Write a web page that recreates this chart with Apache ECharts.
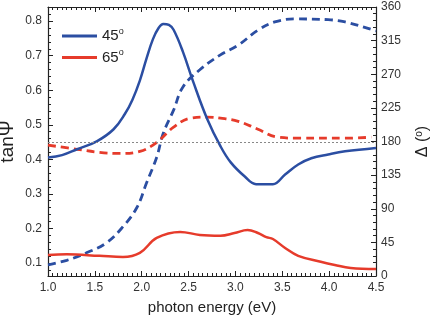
<!DOCTYPE html>
<html>
<head>
<meta charset="utf-8">
<script src="https://cdn.jsdelivr.net/npm/echarts@6/dist/echarts.min.js"></script>
<style>
  html, body { margin: 0; padding: 0; background: #fff; }
  #chart { width: 436px; height: 316px; }
</style>
</head>
<body>
<div id="chart"></div>
<script>
// tanPsi, 45 deg (left axis)
const psi45E = [1.0, 1.15, 1.31, 1.52, 1.70, 1.82, 1.90, 1.98, 2.05, 2.12, 2.18, 2.23, 2.29, 2.34, 2.44, 2.55, 2.70, 2.84, 2.95, 3.10, 3.22, 3.40, 3.53, 3.67, 3.81, 3.99, 4.17, 4.5];
const psi45 = [0.405, 0.412, 0.429, 0.452, 0.487, 0.531, 0.572, 0.628, 0.691, 0.748, 0.780, 0.792, 0.789, 0.775, 0.711, 0.624, 0.516, 0.438, 0.391, 0.350, 0.328, 0.328, 0.356, 0.385, 0.403, 0.414, 0.423, 0.433];
// Delta, 45 deg (right axis)
const delta45E = [1.0, 1.2, 1.41, 1.62, 1.80, 1.95, 2.05, 2.16, 2.23, 2.34, 2.44, 2.62, 2.84, 3.03, 3.24, 3.42, 3.64, 3.99, 4.17, 4.45, 4.5];
const delta45 = [15, 21, 31, 44, 66, 92, 124, 159, 191, 222, 253, 276, 296, 309, 329, 340, 344, 343, 340, 330, 328];
// tanPsi, 65 deg (left axis)
const psi65E = [1.0, 1.31, 1.55, 1.77, 1.98, 2.16, 2.34, 2.52, 2.70, 2.84, 3.03, 3.24, 3.45, 3.69, 4.17, 4.45];
const psi65 = [0.441, 0.429, 0.420, 0.417, 0.423, 0.449, 0.493, 0.519, 0.522, 0.519, 0.510, 0.487, 0.464, 0.461, 0.461, 0.464];
// Delta, 65 deg (right axis)
const delta65E = [1.0, 1.2, 1.55, 1.80, 1.98, 2.16, 2.41, 2.62, 2.84, 2.99, 3.13, 3.24, 3.33, 3.40, 3.53, 3.67, 3.91, 4.06, 4.23, 4.5];
const delta65 = [28, 29, 27, 25.5, 31, 51, 59, 55, 54, 57.5, 61.5, 57.5, 52, 49.5, 37.5, 27, 19, 14.7, 10.7, 9.4];

const psiTicks = [0.1, 0.2, 0.3, 0.4, 0.5, 0.6, 0.7, 0.8];
const psiMinor = [];
for (let v = 0.08; v < 0.84; v += 0.02) psiMinor.push(+v.toFixed(2));

const blue = '#2b4ea2';
const red = '#e63b2b';
const font = 'Liberation Sans, Arial, sans-serif';

function pairs(xs, ys) {
    return xs.map((x, i) => [x, ys[i]]);
}

const chart = echarts.init(document.getElementById('chart'));
const tick = { show: true, inside: true, length: 5, lineStyle: { color: '#222' } };
const minor = { show: true, length: 3, lineStyle: { color: '#222' } };

chart.setOption({
    animation: false,
    grid: { left: 48, right: 60, top: 7, bottom: 40, outerBoundsMode: 'none', containLabel: false },
    legend: {
        data: ['45', '65'],
        left: 62, top: 27, orient: 'vertical', padding: 0,
        itemWidth: 35, itemHeight: 8, itemGap: 5,
        icon: 'path://M0,0 L36,0 L36,3 L0,3 Z',
        formatter: n => n + '{s|o}',
        textStyle: {
            fontFamily: font, fontSize: 15, color: '#222',
            rich: { s: { fontSize: 9, verticalAlign: 'top', padding: [0, 0, 9, 0], fontFamily: font, color: '#222' } }
        }
    },
    xAxis: [
        {
            type: 'value', min: 1, max: 4.5, interval: 0.5,
            name: 'photon energy (eV)', nameLocation: 'middle', nameGap: 24,
            nameTextStyle: { fontFamily: font, fontSize: 15, color: '#222' },
            axisLine: { lineStyle: { color: '#222', width: 1.2 } },
            axisTick: tick,
            minorTick: Object.assign({ splitNumber: 10 }, minor),
            splitLine: { show: false },
            axisLabel: { fontFamily: font, fontSize: 12, color: '#333', margin: 6, formatter: v => v.toFixed(1) }
        },
        {
            type: 'value', min: 1, max: 4.5, interval: 0.5, position: 'top',
            axisLine: { lineStyle: { color: '#222', width: 1.2 } },
            axisTick: tick,
            minorTick: Object.assign({ splitNumber: 10 }, minor),
            splitLine: { show: false },
            axisLabel: { show: false }
        }
    ],
    yAxis: [
        {
            type: 'value', min: 0.062, max: 0.841, position: 'left',
            name: 'tanΨ', nameLocation: 'middle', nameGap: 31, nameRotate: 90, nameMoveOverlap: false,
            nameTextStyle: { fontFamily: font, fontSize: 19, color: '#222' },
            axisLine: { show: true, lineStyle: { color: '#222', width: 1.2 } },
            axisTick: Object.assign({ customValues: psiTicks }, tick),
            splitLine: { show: false },
            axisLabel: { customValues: psiTicks, fontFamily: font, fontSize: 12, color: '#333', margin: 6, formatter: v => v.toFixed(1) }
        },
        {
            type: 'value', min: 0, max: 360, interval: 45, position: 'right',
            name: 'Δ ({s|o})', nameLocation: 'middle', nameGap: 38, nameRotate: 90, nameMoveOverlap: false,
            nameTextStyle: {
                fontFamily: font, fontSize: 16, color: '#222',
                rich: { s: { fontSize: 10, verticalAlign: 'top', padding: [0, 0, 8, 0], fontFamily: font, color: '#222' } }
            },
            axisLine: { show: true, lineStyle: { color: '#222', width: 1.2 } },
            axisTick: tick,
            minorTick: Object.assign({ splitNumber: 5 }, minor),
            splitLine: { show: false },
            axisLabel: { fontFamily: font, fontSize: 12, color: '#333', margin: 5 }
        },
        {
            type: 'value', min: 0.062, max: 0.841, position: 'left',
            axisLine: { show: false },
            axisTick: Object.assign({ customValues: psiMinor }, tick, { length: 3 }),
            splitLine: { show: false },
            axisLabel: { show: false }
        }
    ],
    series: [
        {
            name: '45', type: 'line', yAxisIndex: 0, smooth: 0.4, symbol: 'none',
            data: pairs(psi45E, psi45),
            lineStyle: { color: blue, width: 2.5 }, itemStyle: { color: blue }, z: 3
        },
        {
            name: '65', type: 'line', yAxisIndex: 1, smooth: 0.4, symbol: 'none',
            data: pairs(delta65E, delta65),
            lineStyle: { color: red, width: 2.5 }, itemStyle: { color: red }, z: 3
        },
        {
            name: 'delta45', type: 'line', yAxisIndex: 1, smooth: 0.4, symbol: 'none',
            data: pairs(delta45E, delta45),
            lineStyle: { color: blue, width: 2.8, type: [8, 5] }, z: 2
        },
        {
            name: 'psi65', type: 'line', yAxisIndex: 0, smooth: 0.4, symbol: 'none',
            data: pairs(psi65E, psi65),
            lineStyle: { color: red, width: 2.8, type: [8, 5] }, z: 2,
            markLine: {
                silent: true, symbol: 'none', label: { show: false },
                lineStyle: { color: '#888', width: 1, type: [2, 2] },
                data: [{ yAxis: 0.4535 }]
            }
        }
    ]
});
</script>
</body>
</html>
